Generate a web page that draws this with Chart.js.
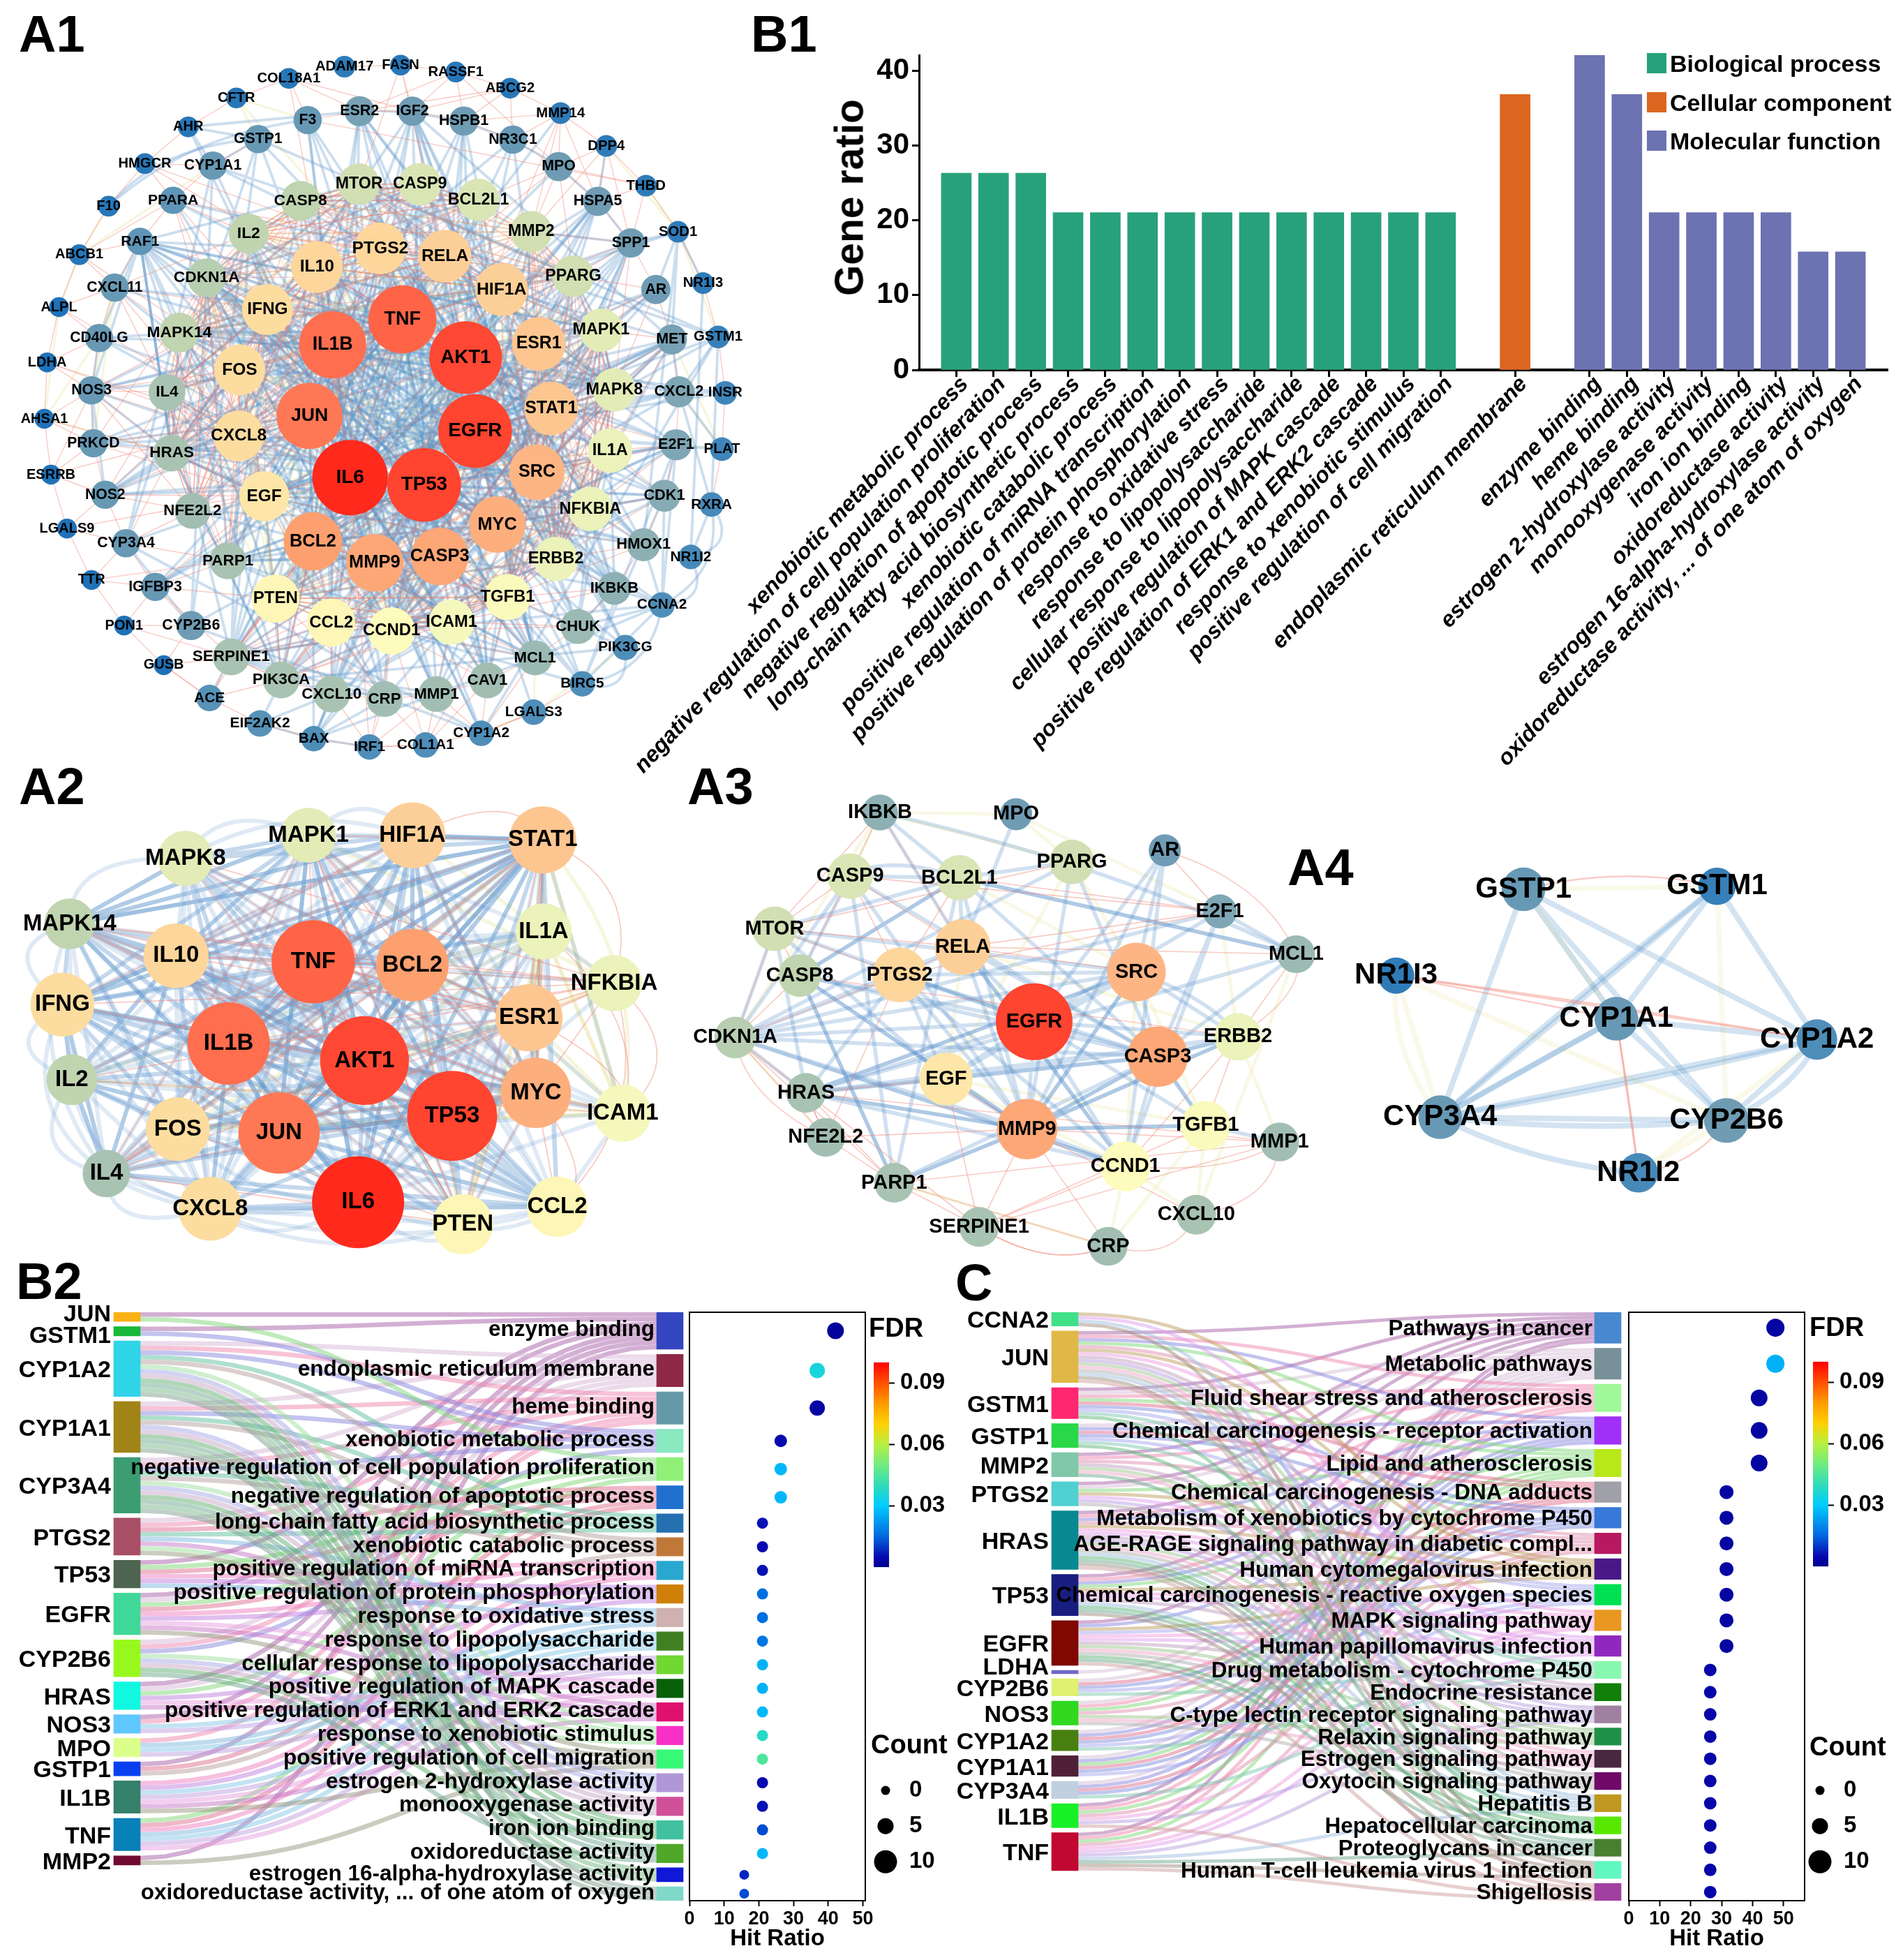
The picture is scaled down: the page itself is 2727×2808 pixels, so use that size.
<!DOCTYPE html>
<html>
<head>
<meta charset="utf-8">
<title>Network and enrichment figure</title>
<script src="https://cdn.jsdelivr.net/npm/chart.js@4/dist/chart.umd.js"></script>
<style>
html,body{margin:0;padding:0;background:#fff}
#page{position:relative;width:2727px;height:2808px;overflow:hidden;font-family:"Liberation Sans",Arial,sans-serif;font-weight:bold;color:#000}
canvas{position:absolute}
.txt{position:absolute;white-space:nowrap;line-height:1}
.swatch{position:absolute}
</style>
</head>
<body>
<div id="page"></div>
<script>
const a1Names = ['ADAM17','COL18A1','FASN','RASSF1','ABCG2','CFTR','AHR','HMGCR','F10','ABCB1','ALPL','LDHA','AHSA1','ESRRB','LGALS9','TTR','PON1','GUSB','MMP14','DPP4','THBD','SOD1','NR1I3','GSTM1','INSR','PLAT','RXRA','NR1I2','CCNA2','PIK3CG','BIRC5','LGALS3','CYP1A2','COL1A1','IRF1','BAX','EIF2AK2','ACE','F3','ESR2','IGF2','HSPB1','NR3C1','GSTP1','CYP1A1','PPARA','RAF1','CXCL11','CD40LG','NOS3','PRKCD','NOS2','CYP3A4','IGFBP3','CYP2B6','MPO','HSPA5','SPP1','AR','MET','CXCL2','E2F1','CDK1','HMOX1','IKBKB','CHUK','MCL1','CAV1','MMP1','CRP','CXCL10','PIK3CA','SERPINE1','PARP1','NFE2L2','HRAS','IL4','MAPK14','CDKN1A','IL2','CASP8','MTOR','CASP9','BCL2L1','MMP2','PPARG','MAPK1','MAPK8','IL1A','NFKBIA','ERBB2','TGFB1','ICAM1','CCND1','CCL2','PTEN','EGF','CXCL8','FOS','IFNG','IL10','PTGS2','RELA','HIF1A','ESR1','STAT1','SRC','MYC','CASP3','MMP9','BCL2','JUN','IL1B','TNF','AKT1','EGFR','TP53','IL6'];
const a1X = [730,612,849,966,1081,501,399,307,230,168,125,100,94,108,142,194,263,347,1188,1285,1369,1437,1490,1522,1537,1530,1508,1464,1403,1325,1234,1131,1020,902,783,665,551,444,652,762,874,983,1087,547,451,367,297,243,210,194,198,223,267,329,405,1184,1267,1337,1390,1424,1439,1433,1408,1364,1302,1225,1134,1033,925,815,703,596,490,483,408,364,354,380,438,527,637,761,890,1014,1126,1215,1274,1302,1293,1251,1178,1076,957,830,702,584,560,506,508,567,672,806,943,1063,1142,1168,1138,1054,932,794,663,656,705,853,987,1007,899,742];
const a1Y = [136,160,133,147,180,200,259,334,421,520,627,740,855,969,1079,1184,1277,1358,231,298,379,473,578,688,802,917,1030,1137,1235,1322,1396,1454,1497,1521,1525,1508,1477,1425,245,227,227,247,285,284,338,409,493,587,690,797,905,1010,1109,1198,1277,340,411,496,591,693,800,908,1012,1112,1201,1279,1343,1389,1417,1427,1417,1388,1341,1145,1043,925,801,679,567,477,410,376,376,408,473,564,674,796,920,1039,1141,1219,1270,1288,1271,1222,1013,890,755,632,545,507,523,591,702,834,964,1071,1136,1149,1105,849,704,652,730,880,990,975];
const a1Degree = [46,44,44,44,44,44,44,44,44,44,42,42,42,42,42,42,42,42,46,46,46,46,46,48,50,50,52,52,54,54,54,54,54,54,54,54,56,56,60,64,62,62,60,60,60,58,58,60,60,60,60,60,60,60,62,62,62,62,62,64,66,66,68,70,70,74,74,76,76,76,78,78,78,78,76,78,78,84,82,84,84,88,90,90,88,88,92,92,94,94,94,98,96,100,102,102,106,108,108,108,110,110,112,112,114,114,118,120,122,122,124,140,142,144,154,156,156,160];

// edge notation: "A B C" all pairs, "A: B C" hub to partners, "A > B > C" chain, "A ~ B" curved
const a1Blue = [
 'IL6 TNF AKT1 IL1B JUN TP53 EGFR STAT1 MYC CASP3 BCL2 MMP9 PTGS2',
 'IL6 TNF IL1B IL10 CXCL8 IFNG IL4 IL2 CCL2 ICAM1 SERPINE1 CRP',
 'AKT1 EGFR SRC ESR1 HIF1A MAPK1 MAPK8 MAPK14 MTOR PTEN CCND1 ERBB2 PPARG',
 'TP53 BCL2 CASP3 CASP8 CASP9 BCL2L1 PARP1 CDKN1A MYC CCND1 MCL1',
 'JUN FOS RELA NFKBIA MAPK8 MAPK14 EGF HRAS RAF1 MAPK1',
 'EGFR ERBB2 SRC HRAS EGF PIK3CA MET IGF2 STAT1',
 'MMP9 MMP2 MMP1 TGFB1 SPP1 SERPINE1 ICAM1 CXCL10',
 'CYP1A1 CYP1A2 CYP3A4 CYP2B6 GSTP1 GSTM1',
 'IKBKB CHUK NFKBIA RELA TNF IL1B IL1A',
 'CDK1 CCNA2 CCND1 CDKN1A MYC TP53 BIRC5 E2F1',
 'PIK3CA PIK3CG AKT1 MTOR RAF1 HRAS',
 'TNF: ESR2 F3 MPO HSPA5 HMOX1 NOS3 NOS2 SOD1 CD40LG PRKCD IGFBP3 ACE CAV1 CXCL11 CXCL2 LGALS3 HSPB1 MMP14 CXCL10 NFE2L2 PPARA',
 'AKT1: IGF2 F3 ESR2 GSTP1 NR3C1 HSPA5 AR INSR E2F1 CDK1 HMOX1 IKBKB CHUK MCL1 CAV1 NOS3 PRKCD BAX RAF1 CDKN1A IGFBP3 BIRC5',
 'IL6: HMOX1 NOS3 NOS2 CXCL2 CXCL11 CD40LG SPP1 MET IGFBP3 F3 HSPA5 CAV1 CXCL10 MMP1 ESR2 NR3C1 IGF2',
 'EGFR: CAV1 MET CXCL2 HSPA5 CDK1 INSR PLAT E2F1 IKBKB AR ESR2 HSPB1 MCL1 PRKCD',
 'TP53: CDK1 E2F1 HMOX1 BAX NOS2 IKBKB HSPA5 MMP1 HSPB1 PARP1 AR IGF2 MCL1 CAV1',
 'JUN: NFE2L2 PPARA ESR2 CD40LG NOS2 HSPB1 SPP1 CAV1 PARP1 MMP1 PRKCD',
 'SRC: CAV1 MET PIK3CG CXCL2 E2F1 PRKCD HSPB1 IGF2 RAF1',
 'MYC: CDK1 E2F1 HMOX1 HSPA5 NFE2L2 BAX MCL1',
 'STAT1: SPP1 AR CXCL10 MET CXCL11 IKBKB CXCL2',
 'HIF1A: HSPA5 HMOX1 NOS3 NOS2 MET IGF2 ESR2',
 'ESR1: ESR2 AR HSPA5 NR3C1 CAV1 E2F1 IGFBP3',
 'CASP3: BAX PARP1 MCL1 HSPB1 CAV1 IKBKB F3',
 'IL1B: CD40LG NOS2 CXCL2 HMOX1 MMP1 CXCL10 F3 SPP1',
 'BCL2: BAX HSPA5 MCL1 PARP1 NFE2L2 CAV1 ESR2',
 'PTGS2: NOS3 NOS2 HMOX1 CYP1A1 PPARA CAV1 NR3C1',
 'NR1I3 > NR1I2 > RXRA > GSTM1',
 'RXRA ~ NR1I2',
 'RXRA ~ CCNA2',
 'NR1I2 ~ CCNA2',
 'CCNA2 ~ BIRC5',
 'PIK3CG ~ BIRC5',
 'F10 ~ GSTP1',
 'F10 ~ F3',
 'MPO ~ ESR2',
 'CXCL2: GSTM1 INSR MET PLAT RXRA',
 'CCNA2: CHUK IKBKB MCL1 HMOX1',
 'EIF2AK2: BAX CXCL10 PIK3CA',
 'BAX: IRF1 CXCL10 CRP MMP1 MCL1',
 'HSPA5: DPP4 MPO SPP1',
 'AHR: GSTP1 CYP1A1 CYP1A2 ESR2',
 'RAF1: CXCL11 CD40LG NOS3 HRAS MAPK1',
 'NOS3: CD40LG PRKCD HRAS NOS2',
 'SOD1: AR NR1I3 MET SPP1 HMOX1'
];
const a1Red = [
 'IL10 CXCL8 FOS IFNG EGF HRAS IL4 PARP1 NFE2L2 CDKN1A',
 'STAT1 ESR1 SRC IL1A NFKBIA ERBB2 TGFB1 MAPK1 MAPK8 PPARG MMP2 HIF1A',
 'CASP3 MMP9 BCL2 PTEN CCL2 CCND1 ICAM1 TGFB1 SERPINE1 PIK3CA',
 'RELA PTGS2 MTOR CASP9 BCL2L1 CASP8 IL2 IL10 HIF1A',
 'IL6 JUN FOS CXCL8 IFNG IL10 IL1B TNF PTGS2 RELA HIF1A',
 'TP53 EGFR AKT1 CASP3 MMP9 BCL2 MYC SRC STAT1 ESR1',
 'EGF PTEN CCL2 CCND1 ICAM1 TGFB1 ERBB2 NFKBIA IL1A MAPK8 MAPK1',
 'PPARG MMP2 BCL2L1 CASP9 MTOR CASP8 IL2 CDKN1A MAPK14 IL4 HRAS NFE2L2',
 'ADAM17 > FASN > RASSF1 > ABCG2 > MMP14 > DPP4 > THBD > SOD1 > NR1I3 > GSTM1 > INSR > PLAT > RXRA',
 'COL18A1 > CFTR > AHR > HMGCR > F10 > ABCB1 > ALPL > LDHA > AHSA1 > ESRRB > LGALS9 > TTR > PON1 > GUSB > ACE > EIF2AK2 > BAX > IRF1 > COL1A1 > CYP1A2 > LGALS3 > BIRC5',
 'F3 > ESR2 > IGF2 > HSPB1 > NR3C1 > MPO > HSPA5 > SPP1 > AR > MET > CXCL2 > E2F1 > CDK1 > HMOX1 > IKBKB > CHUK > MCL1 > CAV1 > MMP1 > CRP > CXCL10 > PIK3CA > SERPINE1',
 'GSTP1 > CYP1A1 > PPARA > RAF1 > CXCL11 > CD40LG > NOS3 > PRKCD > NOS2 > CYP3A4 > IGFBP3 > CYP2B6',
 'MMP14: MPO HSPA5 MMP2 HSPB1 NR3C1 MMP9',
 'ABCG2: NR3C1 IGF2 HSPB1 ESR2',
 'RASSF1: IGF2 ESR2 HSPB1 MPO',
 'FASN: MTOR AKT1 IGF2',
 'COL18A1: F3 ESR2 MMP9 IGF2',
 'HMGCR: PPARA CYP1A1 AKT1 PTGS2',
 'ABCB1: CXCL11 RAF1 TP53 PPARA',
 'ALPL: CD40LG IL6 CXCL11',
 'LDHA: NOS3 TP53 MYC CD40LG',
 'AHSA1: NOS3 PRKCD HRAS',
 'ESRRB: NOS2 PRKCD ESR1 NOS3',
 'LGALS9: CYP3A4 IL6 NOS2',
 'TTR: IGFBP3 CYP3A4 PARP1',
 'PON1: CYP2B6 IGFBP3 SERPINE1',
 'GUSB: SERPINE1 ACE CYP2B6',
 'ACE: SERPINE1 IL6 PIK3CA',
 'IRF1: IL6 CRP CXCL10 TP53 MMP1 COL1A1',
 'COL1A1: MMP1 TGFB1 CRP MMP2 CCND1 CAV1',
 'CYP1A2: CAV1 MCL1 LGALS3 MMP1',
 'THBD: MPO SPP1 HSPA5 F3',
 'DPP4: SPP1 MPO HSPA5 MMP2',
 'PPARA: IL2 PPARG TP53 CXCL8 CDKN1A',
 'CXCL11: IL2 IL4 CXCL8 IFNG MAPK14',
 'NOS3: IL4 HRAS IL10 FOS CXCL8 NFE2L2',
 'PRKCD: HRAS EGF CDKN1A JUN',
 'NOS2: NFE2L2 EGF IL4 FOS CXCL8',
 'CYP3A4: PARP1 HRAS NFE2L2',
 'IGFBP3: PARP1 PTEN SERPINE1 EGF',
 'MPO: MMP2 BCL2L1 PPARG RELA',
 'SPP1: PPARG MAPK1 MMP2 HIF1A MAPK8',
 'AR: MAPK1 PPARG ESR1 MAPK8',
 'MET: MAPK1 IL1A MAPK8 STAT1 SRC',
 'E2F1: IL1A STAT1 NFKBIA SRC',
 'CDK1: NFKBIA ERBB2 MYC IL1A',
 'HMOX1: ERBB2 TGFB1 NFKBIA MYC',
 'IKBKB: TGFB1 ICAM1 ERBB2',
 'CHUK: TGFB1 ICAM1 CCND1',
 'MCL1: ICAM1 CCND1 TGFB1 CASP3',
 'CAV1: CCND1 ICAM1 TGFB1',
 'CRP: CCND1 CCL2 PTEN',
 'CXCL10: CCL2 PTEN',
 'PIK3CA: PTEN BCL2 CCL2',
 'SERPINE1: PTEN BCL2'
];
const a1Pale = [
 'CFTR: F3 GSTP1 AKT1',
 'ABCB1: ALPL CYP1A1 F10',
 'AHSA1: CD40LG ALPL HRAS',
 'CXCL11: CD40LG NOS3 PRKCD',
 'SOD1: DPP4 THBD GSTM1',
 'PLAT: E2F1 MET CXCL2',
 'LGALS3: CYP1A2 MCL1 PIK3CG',
 'IL10 HIF1A ESR1 TGFB1 PTEN IL4 MAPK14',
 'FOS EGF PTEN CCL2 ICAM1 NFKBIA IL1A',
 'MAPK14 IL2 CASP8 MTOR CASP9 MMP2 PPARG',
 'IL6 EGFR IL10 HIF1A CCND1 MAPK1 IL2 SRC FOS',
 'TNF TP53 RELA ESR1 PTEN MAPK8 CDKN1A EGF ERBB2'
];

// ---------- network A2
const a2Names = ['MAPK8','MAPK1','HIF1A','STAT1','MAPK14','IL10','TNF','BCL2','IL1A','NFKBIA','IFNG','ESR1','IL1B','AKT1','IL2','MYC','TP53','ICAM1','FOS','JUN','IL4','CXCL8','IL6','PTEN','CCL2'];
const a2X = [434,722,965,1270,163,412,733,965,1272,1437,146,1238,535,853,168,1254,1058,1457,416,653,249,492,838,1083,1304];
const a2Y = [296,226,226,240,495,592,610,620,518,675,740,780,858,910,968,1008,1078,1070,1118,1130,1253,1360,1340,1407,1354];
const a2Blue = [
 'IL6 TNF AKT1 IL1B JUN TP53 MYC BCL2 ESR1 STAT1 HIF1A',
 'IL6 TNF IL1B IL10 IFNG IL2 IL4 CXCL8 CCL2',
 'JUN FOS MAPK1 MAPK8 MAPK14 AKT1 TP53 MYC ESR1',
 'IL1A IL1B TNF IL6 CXCL8 CCL2 STAT1 BCL2',
 'PTEN AKT1 TP53 MYC BCL2 JUN HIF1A',
 'MAPK8 MAPK14 TNF IL6 IL1B BCL2 HIF1A STAT1',
 'IL10 IL1B JUN TP53 AKT1 STAT1 CXCL8 PTEN CCL2 MAPK1 MAPK8 MAPK14 HIF1A',
 'IFNG IL2 IL4 IL10 TNF MYC FOS STAT1 HIF1A MAPK14',
 'IL1A IL6 AKT1 JUN TP53 IL10 IL2 IFNG IL4 MAPK1',
 'ICAM1 STAT1 IL10 IFNG JUN AKT1 MAPK1 MAPK14',
 'IFNG: TP53 STAT1 AKT1 CCL2 IL1A JUN FOS',
 'IL4: STAT1 TP53 BCL2 AKT1 CCL2 JUN',
 'IL2: STAT1 BCL2 AKT1 JUN FOS',
 'CCL2: FOS TP53 AKT1 IL10 JUN',
 'CXCL8: TP53 FOS JUN AKT1 STAT1',
 'ICAM1: TNF IL1B IL6 CCL2',
 'NFKBIA: TNF IL6 IL1A',
 'IL4 ~ CXCL8', 'IL4 ~ IL6', 'IL2 ~ IL4', 'IL2 ~ CXCL8', 'IFNG ~ IL4', 'IFNG ~ IL2', 'MAPK14 ~ IFNG',
 'MAPK14 ~ MAPK8', 'MAPK8 ~ MAPK1', 'MAPK1 ~ HIF1A', 'MAPK8 ~ HIF1A', 'CXCL8 ~ IL6', 'CXCL8 ~ PTEN', 'CXCL8 ~ CCL2', 'IL6 ~ CCL2', 'IL6 ~ PTEN', 'MAPK14 ~ IL4', 'JUN ~ IL6', 'FOS ~ IL6'
];
const a2Red = [
 'HIF1A ~ STAT1', 'NFKBIA ~ ICAM1', 'NFKBIA ~ CCL2', 'STAT1 ~ NFKBIA', 'IL1A ~ ICAM1', 'IL4 ~ FOS', 'ESR1 ~ ICAM1', 'MYC ~ CCL2',
 'TNF BCL2 MYC STAT1 ESR1 IL4 FOS PTEN MAPK1',
 'MAPK14: AKT1 BCL2 TP53 MYC ESR1 NFKBIA',
 'MAPK8: NFKBIA ESR1 MYC',
 'IL10: MYC ESR1 NFKBIA STAT1 PTEN BCL2 HIF1A',
 'MYC: HIF1A IL1A STAT1 CCL2 ICAM1',
 'ESR1: IL1A NFKBIA IL1B JUN TNF',
 'PTEN: IL1B MAPK1 MAPK8 TNF',
 'IFNG: HIF1A MYC ICAM1 NFKBIA',
 'IL2: ICAM1 NFKBIA TNF',
 'NFKBIA: AKT1 JUN IL1B BCL2 MYC'
];
const a2Pale = ['ICAM1: STAT1 IL1A MAPK1 FOS IL2', 'NFKBIA: MAPK1 HIF1A ESR1 FOS', 'STAT1 ~ ICAM1', 'IL1A: IL2 PTEN ESR1', 'FOS ESR1 IL1A STAT1 MYC ICAM1', 'BCL2 IL1A ESR1 AKT1 PTEN'];

// ---------- network A3
const a3Names = ['IKBKB','MPO','AR','PPARG','CASP9','BCL2L1','E2F1','MTOR','MCL1','RELA','CASP8','PTGS2','SRC','EGFR','CDKN1A','ERBB2','CASP3','EGF','HRAS','NFE2L2','MMP9','TGFB1','MMP1','CCND1','PARP1','SERPINE1','CXCL10','CRP'];
const a3X = [267,440,629,511,229,368,699,133,796,372,165,292,593,463,83,722,620,351,173,198,454,681,775,579,285,393,669,557];
const a3Y = [157,162,272,307,350,355,457,510,587,565,652,650,641,792,840,838,898,966,1008,1143,1118,1107,1157,1231,1281,1415,1378,1474];
const a3Blue = [
 'EGFR SRC CASP3 MMP9 EGF HRAS ERBB2',
 'EGFR RELA PTGS2 CCND1 CDKN1A',
 'CASP3 MMP9 CASP8 CASP9 BCL2L1 PARP1',
 'CDKN1A: CASP3 CCND1 E2F1 SRC MMP9 HRAS CASP9 MTOR',
 'BCL2L1: MCL1 PPARG RELA MTOR CASP8',
 'CASP9 ~ BCL2L1',
 'IKBKB: BCL2L1 RELA',
 'IKBKB ~ MCL1',
 'MPO: RELA',
 'AR: EGFR SRC MMP9 CCND1',
 'E2F1: CCND1 CASP3 EGFR',
 'MTOR: EGFR HRAS EGF SRC',
 'SRC ~ ERBB2',
 'HRAS: MMP9 CCND1 CASP3 PTGS2 MCL1 SRC',
 'MCL1: E2F1 CASP3 BCL2L1',
 'TGFB1: MMP1 MMP9 CASP3 EGFR',
 'PPARG: MMP9 CASP3 CDKN1A',
 'MMP9: CCND1 PARP1 PTGS2 TGFB1 ERBB2 SRC',
 'CASP8: MMP9 PARP1 EGFR',
 'RELA: MMP9 CASP3 CCND1',
 'PTGS2: CASP3 EGF SRC',
 'CASP3: TGFB1 CCND1 ERBB2'
];
const a3Red = [
 'CDKN1A: CASP8 MTOR PARP1 SERPINE1 NFE2L2 HRAS PTGS2',
 'PARP1: SERPINE1 CRP MMP1 HRAS',
 'MMP9: SERPINE1 CRP MMP1 CXCL10 EGF',
 'SERPINE1: CCND1 TGFB1 MMP1 EGF',
 'PTGS2: MTOR RELA E2F1 CASP9 BCL2L1 NFE2L2',
 'RELA: E2F1 MCL1 IKBKB CASP9 MTOR SRC',
 'E2F1: BCL2L1 AR CASP9',
 'AR ~ MCL1',
 'CASP9: IKBKB MTOR CASP8',
 'MTOR: IKBKB CASP8 PPARG',
 'ERBB2: MCL1 CCND1 CASP8 TGFB1',
 'MCL1 ~ ERBB2',
 'MMP1 ~ CCND1',
 'CXCL10 ~ CRP',
 'CXCL10 ~ MMP1',
 'CRP ~ SERPINE1',
 'SERPINE1 ~ CRP',
 'NFE2L2: PARP1 MMP9 HRAS',
 'CDKN1A ~ NFE2L2',
 'HRAS: EGF NFE2L2 MMP1'
];
const a3Pale = [
 'EGF: CCND1 TGFB1 RELA PPARG',
 'SRC: PPARG TGFB1 CCND1 BCL2L1',
 'ERBB2: E2F1 RELA MMP1',
 'CRP: CCND1 TGFB1 PARP1',
 'CDKN1A: NFE2L2 IKBKB',
 'CXCL10: TGFB1 CCND1 MCL1',
 'IKBKB: MPO CASP9 PPARG',
 'MPO: PPARG E2F1'
];

// ---------- network A4
const a4Names = ['GSTP1','GSTM1','NR1I3','CYP1A1','CYP1A2','CYP3A4','CYP2B6','NR1I2'];
const a4X = [1085,1331,923,1203,1458,979,1343,1231];
const a4Y = [390,381,652,783,846,1082,1092,1251];
const a4Blue = [
 'GSTP1: CYP3A4 CYP1A1 CYP1A2 CYP2B6',
 'GSTM1: CYP1A1 CYP3A4 CYP1A2',
 'GSTM1 ~ CYP3A4',
 'CYP1A1 CYP1A2 CYP3A4 CYP2B6',
 'CYP1A2 ~ CYP2B6',
 'CYP1A2 ~ CYP3A4',
 'CYP3A4 ~ CYP2B6',
 'CYP3A4 ~ NR1I2',
 'CYP1A1 ~ CYP3A4'
];
const a4Red = ['NR1I3: CYP1A1 CYP1A2', 'NR1I3 ~ CYP1A2', 'CYP1A1 ~ NR1I2', 'CYP1A1 > NR1I2', 'CYP2B6 ~ NR1I2', 'GSTP1 ~ GSTM1'];
const a4Pale = ['NR1I3: CYP3A4 CYP2B6', 'NR1I3 ~ CYP3A4', 'GSTM1: CYP2B6', 'GSTP1: GSTM1 CYP1A1', 'NR1I2: CYP2B6', 'CYP1A2: NR1I2'];

// ---------- panel B1
const b1Terms = ['','xenobiotic metabolic process','negative regulation of cell population proliferation','negative regulation of apoptotic process','long-chain fatty acid biosynthetic process','xenobiotic catabolic process','positive regulation of miRNA transcription','positive regulation of protein phosphorylation','response to oxidative stress','response to lipopolysaccharide','cellular response to lipopolysaccharide','positive regulation of MAPK cascade','positive regulation of ERK1 and ERK2 cascade','response to xenobiotic stimulus','positive regulation of cell migration','','endoplasmic reticulum membrane','','enzyme binding','heme binding','estrogen 2-hydroxylase activity','monooxygenase activity','iron ion binding','oxidoreductase activity','estrogen 16-alpha-hydroxylase activity','oxidoreductase activity, ... of one atom of oxygen',''];
const b1Ratio = [null,26.32,26.32,26.32,21.05,21.05,21.05,21.05,21.05,21.05,21.05,21.05,21.05,21.05,21.05,null,36.84,null,42.11,36.84,21.05,21.05,21.05,21.05,15.79,15.79,null];
const b1Group = [-1,0,0,0,0,0,0,0,0,0,0,0,0,0,0,-1,1,-1,2,2,2,2,2,2,2,2,-1];
const b1Groups = ['Biological process','Cellular component','Molecular function'];
const b1Colors = ['#27a17c','#da6620','#6c72b2'];

// ---------- panel B2
const b2Genes = ['JUN','GSTM1','CYP1A2','CYP1A1','CYP3A4','PTGS2','TP53','EGFR','CYP2B6','HRAS','NOS3','MPO','GSTP1','IL1B','TNF','MMP2'];
const b2Links = [[0,4],[0,3],[1,2,3,6,7,15,17,18,19,20,21,22],[1,2,3,6,7,17,18,19,20,21,22],[1,2,3,6,7,15,17,18,19,20,21,22],[1,2,5,6,10,14,15,16],[0,4,5,8,9,10],[0,1,4,5,8,9,13,14,16],[1,2,3,15,17,18,19,20],[0,1,4,9,13,14],[0,2,11,12],[2,10,11,12],[0,5,7],[8,9,11,12,13,14,16],[4,5,8,10,11,12,13],[0,16]];
const b2Terms = ['enzyme binding','endoplasmic reticulum membrane','heme binding','xenobiotic metabolic process','negative regulation of cell population proliferation','negative regulation of apoptotic process','long-chain fatty acid biosynthetic process','xenobiotic catabolic process','positive regulation of miRNA transcription','positive regulation of protein phosphorylation','response to oxidative stress','response to lipopolysaccharide','cellular response to lipopolysaccharide','positive regulation of MAPK cascade','positive regulation of ERK1 and ERK2 cascade','response to xenobiotic stimulus','positive regulation of cell migration','estrogen 2-hydroxylase activity','monooxygenase activity','iron ion binding','oxidoreductase activity','estrogen 16-alpha-hydroxylase activity','oxidoreductase activity, ... of one atom of oxygen'];
const b2Hit = [42.11,36.84,36.84,26.32,26.32,26.32,21.05,21.05,21.05,21.05,21.05,21.05,21.05,21.05,21.05,21.05,21.05,21.05,21.05,21.05,21.05,15.79,15.79];
const b2Fdr = [0.002,0.035,0.003,0.005,0.027,0.027,0.006,0.005,0.006,0.016,0.016,0.017,0.026,0.026,0.027,0.038,0.045,0.005,0.006,0.012,0.027,0.008,0.012];
const b2GeneColors = ['#f9b115','#18b83a','#30d5e8','#a08516','#3c9d73','#a84f66','#4e6450','#40d899','#98f81e','#10f8e0','#60c8ff','#dcff8c','#0840f0','#35806a','#0880b8','#700a30'];
const b2TermColors = ['#3346c0','#902848','#6699a8','#88e8c0','#90f078','#2070d0','#2570b0','#c07838','#28a8d0','#d08008','#d0b0b0','#408020','#70d830','#086008','#e01070','#f830c8','#38f878','#b098d8','#d05098','#40c0a0','#50a828','#1018d8','#80d8c8'];
const b2RibbonColors = ['#a860a8','#d8b8d8','#f088b0','#8888e0','#80d878','#e07090','#60c0a0','#b8a0a0','#f080c0','#c080e0','#80b8e0','#88c8e8','#c0a0e0','#e8a0e0','#c878c8','#a0e0a0','#989880','#a8a8e8','#c8a8c8','#60b070','#70a890','#78b888','#80a090'];

// ---------- panel C
const cGenes = ['CCNA2','JUN','GSTM1','GSTP1','MMP2','PTGS2','HRAS','TP53','EGFR','LDHA','CYP2B6','NOS3','CYP1A2','CYP1A1','CYP3A4','IL1B','TNF'];
const cLinks = [[8,11,18,21],[0,2,3,4,7,8,10,13,14,15,16,17,18,21,22],[0,1,2,4,5,6,9,12,19],[1,3,5,6,9,12,19],[0,2,7,13,15,16,20],[0,1,4,8,11,14,17],[0,2,3,7,8,10,11,13,14,15,16,17,18,19,20,21,22],[0,2,3,4,8,10,11,13,18,19,20,21],[0,3,8,9,10,11,13,15,16,17,19,20,22],[1],[1,5,6,9,12],[1,2,4,7,15,16,17],[1,3,5,6,9,12],[1,3,4,5,6,9],[1,3,5,6,12],[0,2,4,7,10,14,22],[0,2,4,7,10,11,14,18,20,21,22]];
const cTerms = ['Pathways in cancer','Metabolic pathways','Fluid shear stress and atherosclerosis','Chemical carcinogenesis - receptor activation','Lipid and atherosclerosis','Chemical carcinogenesis - DNA adducts','Metabolism of xenobiotics by cytochrome P450','AGE-RAGE signaling pathway in diabetic compl...','Human cytomegalovirus infection','Chemical carcinogenesis - reactive oxygen species','MAPK signaling pathway','Human papillomavirus infection','Drug metabolism - cytochrome P450','Endocrine resistance','C-type lectin receptor signaling pathway','Relaxin signaling pathway','Estrogen signaling pathway','Oxytocin signaling pathway','Hepatitis B','Hepatocellular carcinoma','Proteoglycans in cancer','Human T-cell leukemia virus 1 infection','Shigellosis'];
const cHit = [47.37,47.37,42.11,42.11,42.11,31.58,31.58,31.58,31.58,31.58,31.58,31.58,26.32,26.32,26.32,26.32,26.32,26.32,26.32,26.32,26.32,26.32,26.32];
const cFdr = [0.003,0.026,0.003,0.003,0.003,0.003,0.003,0.003,0.003,0.003,0.003,0.003,0.004,0.004,0.004,0.004,0.004,0.004,0.004,0.004,0.004,0.004,0.004];
const cGeneColors = ['#40e088','#e0b848','#ff2870','#28d848','#80c8a8','#50d0d0','#088890','#181e80','#800800','#7068c8','#e0f070','#30d820','#488010','#502038','#c0d0e0','#18f028','#c00830'];
const cTermColors = ['#4888d0','#789098','#a0f898','#a030f8','#b8e818','#a0a0a8','#3878d8','#b81860','#481888','#00e050','#e89820','#9028c0','#88f8b0','#108008','#a080a0','#209048','#482840','#700868','#c09820','#58e800','#488030','#60f8c0','#a040a0'];
const cRibbonColors = ['#a860a8','#d8c0d8','#f088b0','#8888e0','#80d878','#e07090','#8090e0','#e090b0','#c0a060','#a8a8f0','#f0a0e0','#e0a0f0','#80c8b0','#c0a0c0','#b8a0e0','#a0c890','#f0a8c8','#b0b0b0','#a0c0e0','#60b878','#70a890','#a09080','#d0a0a0'];

const fdrTicks = [0.03,0.06,0.09];
const countTicks = [0,5,10];
const hitTicks = [0,10,20,30,40,50];
const b1Ticks = [0,10,20,30,40];

// ---------- colour ramps
const degreeRamp = [[42,'#1f72b8'],[54,'#4f8eb9'],[62,'#6f9cb4'],[70,'#8db0b4'],[78,'#a9c3b2'],[84,'#c0d4b0'],[90,'#dae5b5'],[96,'#f4f8bc'],[100,'#fdfcbc'],[104,'#fdf0b0'],[108,'#fddca0'],[112,'#fdcf98'],[118,'#fdb584'],[124,'#fda070'],[140,'#ff7855'],[146,'#ff5a40'],[156,'#ff4430'],[160,'#ff2a1c']];
const fdrRamp = [[0,'#00008c'],[0.005,'#0808b0'],[0.015,'#0068e0'],[0.03,'#00ccff'],[0.04,'#30dcb8'],[0.05,'#70ec80'],[0.06,'#b8f040'],[0.07,'#ffd000'],[0.08,'#ff9a00'],[0.09,'#ff5000'],[0.1,'#ff0000']];

function rgb(hex){
    return [1,3,5].map(i => parseInt(hex.substr(i,2),16));
}
function rampColor(ramp,v){
    if(v <= ramp[0][0]) return ramp[0][1];
    for(let i=1;i<ramp.length;i++){
        if(v <= ramp[i][0]){
            const t = (v-ramp[i-1][0])/(ramp[i][0]-ramp[i-1][0]);
            const a = rgb(ramp[i-1][1]), b = rgb(ramp[i][1]);
            return 'rgb('+a.map((c,k)=>Math.round(c+(b[k]-c)*t)).join(',')+')';
        }
    }
    return ramp[ramp.length-1][1];
}
function alpha(hex,a){
    return 'rgba('+rgb(hex).join(',')+','+a+')';
}

// ---------- page helpers
const page = document.getElementById('page');
Chart.defaults.font.family = '"Liberation Sans",Arial,sans-serif';
Chart.defaults.font.weight = 'bold';
Chart.defaults.color = '#000';
Chart.defaults.animation = false;
Chart.defaults.responsive = false;
Chart.defaults.devicePixelRatio = 1;
Chart.defaults.layout.autoPadding = false;
Chart.defaults.plugins.legend.display = false;
Chart.defaults.plugins.tooltip.enabled = false;

function addCanvas(left,top,w,h){
    const c = document.createElement('canvas');
    c.width = w; c.height = h;
    c.style.left = left+'px'; c.style.top = top+'px';
    page.appendChild(c);
    return c;
}
function addText(str,x,y,size,align,rotate){
    const d = document.createElement('div');
    d.className = 'txt';
    d.textContent = str;
    d.style.left = x+'px'; d.style.top = y+'px'; d.style.fontSize = size+'px';
    const tx = align==='center' ? '-50%' : (align==='right' ? '-100%' : '0');
    d.style.transform = 'translate('+tx+',-50%)'+(rotate ? ' rotate('+rotate+'deg)' : '');
    page.appendChild(d);
}

// draws dataset.labels at the points of that dataset
const textPlugin = {
    id:'markText',
    afterDatasetsDraw(chart){
        const ctx = chart.ctx;
        chart.data.datasets.forEach((ds,i)=>{
            if(!ds.labels) return;
            const pts = chart.getDatasetMeta(i).data;
            ctx.save();
            ctx.fillStyle = '#000';
            ctx.textAlign = ds.labelAlign || 'center';
            ctx.textBaseline = 'middle';
            ds.labels.forEach((t,j)=>{
                const size = ds.labelSizes ? ds.labelSizes[j] : ds.labelSize;
                ctx.font = 'bold '+size+'px "Liberation Sans",Arial,sans-serif';
                ctx.fillText(t, pts[j].x+(ds.labelDx||0), pts[j].y+(ds.labelDy ? ds.labelDy[j] : 0));
            });
            ctx.restore();
        });
    }
};
const framePlugin = {
    id:'plotFrame',
    afterDraw(chart){
        const a = chart.chartArea, ctx = chart.ctx;
        ctx.save();
        ctx.strokeStyle = '#000'; ctx.lineWidth = 2;
        ctx.strokeRect(a.left,a.top,a.right-a.left,a.bottom-a.top);
        ctx.restore();
    }
};

// ---------- networks
function parseEdges(spec){
    const out = [];
    if(spec.includes(':')){
        const parts = spec.split(':');
        parts[1].trim().split(/\s+/).forEach(n => out.push([parts[0].trim(),n,false]));
    }else if(spec.includes('>') || spec.includes('~')){
        const curved = spec.includes('~');
        const names = spec.split(/[>~]/).map(s=>s.trim());
        for(let i=1;i<names.length;i++) out.push([names[i-1],names[i],curved]);
    }else{
        const names = spec.trim().split(/\s+/);
        for(let i=0;i<names.length;i++)
            for(let j=i+1;j<names.length;j++) out.push([names[i],names[j],false]);
    }
    return out;
}
function edgeDataset(spec,pos,center,bend,style){
    const data = [];
    parseEdges(spec).forEach(e=>{
        const a = pos[e[0]], b = pos[e[1]];
        if(!a || !b) return;
        if(e[2]){
            const mx = (a.x+b.x)/2, my = (a.y+b.y)/2;
            const cx = mx+(mx-center.x)*bend, cy = my+(my-center.y)*bend;
            for(let k=0;k<=14;k++){
                const t = k/14, u = 1-t;
                data.push({x:u*u*a.x+2*u*t*cx+t*t*b.x, y:u*u*a.y+2*u*t*cy+t*t*b.y});
            }
        }else{
            data.push({x:a.x,y:a.y},{x:b.x,y:b.y});
        }
        data.push({x:null,y:null});
    });
    return Object.assign({type:'line',data:data,pointRadius:0,spanGaps:false,tension:0,order:5,clip:false},style);
}
function degreeOf(name){
    return a1Degree[a1Names.indexOf(name)];
}
function nodeDataset(net){
    return {
        type:'bubble', order:0, clip:false,
        data: net.names.map((n,i)=>({x:net.x[i],y:net.y[i],r:net.radius(degreeOf(n))})),
        backgroundColor: net.names.map(n=>rampColor(degreeRamp,degreeOf(n))),
        borderWidth:0,
        labels: net.names,
        labelSizes: net.names.map(n=>net.font(degreeOf(n)))
    };
}
function netDatasets(net){
    const pos = {};
    net.names.forEach((n,i)=>{pos[n] = {x:net.x[i],y:net.y[i]};});
    const sets = [];
    net.pale.forEach(s=>sets.push(edgeDataset(s,pos,net.center,net.bend,{borderColor:'rgba(235,232,170,'+net.paleAlpha+')',borderWidth:net.w*0.9})));
    net.blue.forEach(s=>sets.push(edgeDataset(s,pos,net.center,net.bend,{borderColor:'rgba(85,145,200,'+net.blueAlpha+')',borderWidth:net.w})));
    net.red.forEach(s=>sets.push(edgeDataset(s,pos,net.center,net.bend,{borderColor:'rgba(240,125,110,.4)',borderWidth:Math.max(1.4,net.w*0.3)})));
    sets.push(nodeDataset(net));
    // the first dataset paints on top, so nodes go first
    return sets.reverse();
}
function networkChart(left,top,w,h,sx,sy,nets){
    const sets = [];
    nets.forEach(n=>sets.push(...netDatasets(n)));
    new Chart(addCanvas(left,top,w,h),{
        type:'bubble',
        data:{datasets:sets},
        options:{
            layout:{padding:0},
            scales:{
                x:{type:'linear',display:false,min:0,max:w*sx},
                y:{type:'linear',display:false,min:0,max:h*sy,reverse:true}
            }
        },
        plugins:[textPlugin]
    });
}
networkChart(0,0,1130,1100,1.479,1.425,[{
    names:a1Names,x:a1X,y:a1Y,blue:a1Blue,red:a1Red,pale:a1Pale,center:{x:800,y:820},bend:0.12,w:3.8,blueAlpha:0.3,paleAlpha:0.38,
    radius:d=>d*0.338, font:d=>20+(d-42)*0.068
}]);
networkChart(0,1090,960,740,1.633,2.119,[{
    names:a2Names,x:a2X,y:a2Y,blue:a2Blue,red:a2Red,pale:a2Pale,center:{x:800,y:800},bend:0.28,w:6,blueAlpha:0.19,paleAlpha:0.38,
    radius:d=>34+(d-78)*0.39, font:()=>33
}]);
networkChart(960,1090,1767,740,0.887,2.119,[{
    names:a3Names,x:a3X,y:a3Y,blue:a3Blue,red:a3Red,pale:a3Pale,center:{x:430,y:800},bend:0.16,w:5.5,blueAlpha:0.28,paleAlpha:0.3,
    radius:d=>23+(d-62)*0.34, font:()=>29
},{
    names:a4Names,x:a4X,y:a4Y,blue:a4Blue,red:a4Red,pale:a4Pale,center:{x:1190,y:820},bend:0.16,w:8,blueAlpha:0.26,paleAlpha:0.25,
    radius:d=>26+(d-46)*0.375, font:()=>42
}]);

// ---------- B1 bars
new Chart(addCanvas(880,20,1847,1100),{
    type:'bar',
    data:{
        labels:b1Terms,
        datasets:[{
            data:b1Ratio,
            backgroundColor:b1Group.map(g=>g<0 ? 'transparent' : b1Colors[g]),
            barThickness:43
        }]
    },
    options:{
        layout:{padding:{top:59,right:22,left:0,bottom:0}},
        scales:{
            x:{
                offset:false,
                grid:{offset:false,drawOnChartArea:false,tickLength:10,tickWidth:3,tickColor:c=>c.tick && c.tick.label ? '#000' : 'transparent'},
                border:{color:'#000',width:4},
                ticks:{autoSkip:false,minRotation:47,maxRotation:47,padding:-8,labelOffset:12,font:{size:32,style:'italic',weight:'bold'}},
                afterFit(s){ s.height = 590; }
            },
            y:{
                min:0,max:42.11,
                grid:{drawOnChartArea:false,tickLength:10,tickWidth:3,tickColor:'#000'},
                border:{color:'#000',width:3},
                afterBuildTicks(s){ s.ticks = b1Ticks.map(v=>({value:v})); },
                ticks:{padding:4,font:{size:42,weight:'bold'}},
                afterFit(s){ s.width = 437; }
            }
        }
    }
});
addText('Gene ratio',1217,283,57,'center',-90);
const b1LegendY = [91,147,202];
b1Groups.forEach((g,i)=>{
    const s = document.createElement('div');
    s.className = 'swatch';
    s.style.cssText = 'left:2360px;top:'+(b1LegendY[i]-15)+'px;width:28px;height:29px;background:'+b1Colors[i];
    page.appendChild(s);
    addText(g,2393,b1LegendY[i],34,'left');
});

// ---------- sankey and dot plot
function sankeyLayout(genes,links,terms,gapUnits){
    const termCount = terms.map(()=>0);
    links.forEach(l=>l.forEach(t=>termCount[t]++));
    const geneTop = [], termTop = [];
    let y = 0;
    genes.forEach((g,i)=>{geneTop[i]=y; y+=links[i].length+gapUnits;});
    y = 0;
    terms.forEach((t,i)=>{termTop[i]=y; y+=termCount[i]+gapUnits;});
    return {geneTop,termTop,termCount,total:y-gapUnits};
}
function sankeyChart(p){
    const L = sankeyLayout(p.genes,p.links,p.terms,p.gap);
    const sets = [];
    p.links.forEach((list,g)=>{
        list.forEach((t,k)=>{
            const y0 = L.geneTop[g]+k+0.5;
            let order = 0;
            for(let o=0;o<g;o++) if(p.links[o].includes(t)) order++;
            const y1 = L.termTop[t]+order+0.5;
            const x0 = p.leftX+p.nodeW/2, x1 = p.rightX-p.nodeW/2, xm = (x0+x1)/2;
            const pts = [];
            for(let n=0;n<=30;n++){
                const s = n/30, u = 1-s;
                pts.push({
                    x:u*u*u*x0+3*u*u*s*xm+3*u*s*s*xm+s*s*s*x1,
                    y:u*u*u*y0+3*u*u*s*y0+3*u*s*s*y1+s*s*s*y1
                });
            }
            sets.push({type:'line',data:pts,pointRadius:0,tension:0,order:3,clip:false,
                borderColor:alpha(p.ribbons[t],0.5),borderWidth:p.unit*0.98,borderCapStyle:'butt'});
        });
    });
    sets.push({type:'bar',order:1,grouped:false,barThickness:p.nodeW,
        data:p.genes.map((g,i)=>({x:p.leftX,y:[L.geneTop[i],L.geneTop[i]+p.links[i].length]})),
        backgroundColor:p.geneColors});
    sets.push({type:'bar',order:1,grouped:false,barThickness:p.nodeW,
        data:p.terms.map((g,i)=>({x:p.rightX,y:[L.termTop[i],L.termTop[i]+L.termCount[i]]})),
        backgroundColor:p.termColors});
    sets.push({type:'scatter',order:0,pointRadius:0,showLine:false,
        data:p.genes.map((g,i)=>({x:p.leftX-p.nodeW/2-4,y:L.geneTop[i]+p.links[i].length/2})),
        labels:p.genes,labelAlign:'right',labelSize:34,
        labelDy:p.genes.map(g=>p.geneShift[g]===undefined ? 3 : p.geneShift[g])});
    sets.push({type:'scatter',order:0,pointRadius:0,showLine:false,
        data:p.terms.map((g,i)=>({x:p.rightX-p.nodeW/2-3,y:L.termTop[i]+L.termCount[i]/2})),
        labels:p.terms,labelAlign:'right',labelSize:31.5,
        labelDy:p.terms.map(()=>p.termShift)});
    new Chart(addCanvas(p.left,p.top-30,p.width,p.height+60),{
        type:'scatter',
        data:{datasets:sets},
        options:{
            layout:{padding:{top:30,bottom:30}},
            scales:{
                x:{type:'linear',display:false,min:0,max:p.width,offset:false},
                y:{type:'linear',display:false,min:0,max:L.total,reverse:true}
            }
        },
        plugins:[textPlugin]
    });
    // dot plot
    new Chart(addCanvas(p.dotLeft-30,p.top-10,p.dotWidth+60,p.height+95),{
        type:'bubble',
        data:{datasets:[{
            data:p.terms.map((t,i)=>({x:p.hit[i],y:L.termTop[i]+L.termCount[i]/2,r:L.termCount[i]+4})),
            backgroundColor:p.fdr.map(v=>rampColor(fdrRamp,v)),
            borderWidth:0,clip:false
        }]},
        options:{
            layout:{padding:{left:30,right:30,top:10,bottom:0}},
            scales:{
                x:{
                    type:'linear',min:0,max:p.hitMax,
                    grid:{drawOnChartArea:false,tickLength:8,tickWidth:2,tickColor:'#000'},
                    border:{color:'#000',width:2},
                    afterBuildTicks(s){ s.ticks = hitTicks.map(v=>({value:v})); },
                    ticks:{maxRotation:0,minRotation:0,padding:2,font:{size:27,weight:'bold'}},
                    title:{display:true,text:'Hit Ratio',font:{size:33,weight:'bold'},padding:{top:0,bottom:10}},
                    afterFit(s){ s.height = 85; }
                },
                y:{type:'linear',display:false,min:0,max:L.total,reverse:true}
            }
        },
        plugins:[framePlugin]
    });
    // FDR colour bar
    new Chart(addCanvas(p.barLeft,p.barTop-20,p.barW+90,p.barH+40),{
        type:'bar',
        data:{datasets:[{
            data:[{x:0,y:[0,0.1]}],
            barThickness:p.barW,
            backgroundColor(c){
                const a = c.chart.chartArea;
                if(!a) return '#000';
                const g = c.chart.ctx.createLinearGradient(0,a.bottom,0,a.top);
                fdrRamp.forEach(s=>g.addColorStop(s[0]/0.1,s[1]));
                return g;
            }
        }]},
        options:{
            layout:{padding:{top:20,bottom:20}},
            scales:{
                x:{type:'linear',display:false,min:-1,max:1,offset:false},
                y:{
                    type:'linear',position:'right',min:0,max:0.1,
                    grid:{drawOnChartArea:false,tickLength:8,tickWidth:2,tickColor:'#000'},
                    border:{display:false},
                    afterBuildTicks(s){ s.ticks = fdrTicks.map(v=>({value:v})); },
                    ticks:{padding:8,font:{size:33,weight:'bold'},callback:v=>v.toFixed(2)},
                    afterFit(s){ s.width = 90; }
                }
            }
        }
    });
    addText('FDR',p.fdrX,p.fdrY,38,'left');
    addText('Count',p.countX,p.countY,38,'left');
    // count legend
    new Chart(addCanvas(p.legLeft,2530,130,170),{
        type:'bubble',
        data:{datasets:[{
            data:countTicks.map(v=>({x:34,y:v,r:v+6.5})),
            backgroundColor:'#000',borderWidth:0,clip:false,
            labels:countTicks.map(String),labelAlign:'left',labelSize:33,labelDx:34
        }]},
        options:{
            layout:{padding:0},
            scales:{
                x:{type:'linear',display:false,min:0,max:130},
                y:{type:'linear',display:false,min:-3.43,max:13.2,reverse:true}
            }
        },
        plugins:[textPlugin]
    });
}
sankeyChart({
    genes:b2Genes,links:b2Links,terms:b2Terms,hit:b2Hit,fdr:b2Fdr,
    geneColors:b2GeneColors,termColors:b2TermColors,ribbons:b2RibbonColors,
    gap:1.1,unit:6.62,left:0,top:1880,width:985,height:843,leftX:182,rightX:960,nodeW:38,
    geneShift:{JUN:-3,GSTM1:7},termShift:-1,
    dotLeft:988,dotWidth:252,hitMax:50.7,
    barLeft:1252,barTop:1944,barW:22,barH:309,
    fdrX:1245,fdrY:1902,countX:1248,countY:2499,legLeft:1235
});
sankeyChart({
    genes:cGenes,links:cLinks,terms:cTerms,hit:cHit,fdr:cFdr,
    geneColors:cGeneColors,termColors:cTermColors,ribbons:cRibbonColors,
    gap:1.46,unit:4.93,left:1340,top:1880,width:990,height:843,leftX:186,rightX:964,nodeW:38,
    geneShift:{LDHA:-6},termShift:2,
    dotLeft:2334,dotWidth:252,hitMax:56.8,
    barLeft:2598,barTop:1943,barW:22,barH:309,
    fdrX:2593,fdrY:1901,countX:2593,countY:2502,legLeft:2574
});

// ---------- panel letters
[['A1',27,49],['B1',1076,49],['A2',27,1127],['A3',985,1127],['A4',1845,1243],['B2',23,1836],['C',1369,1838]].forEach(t=>{
    addText(t[0],t[1],t[2],74,'left');
});
</script>
</body>
</html>
